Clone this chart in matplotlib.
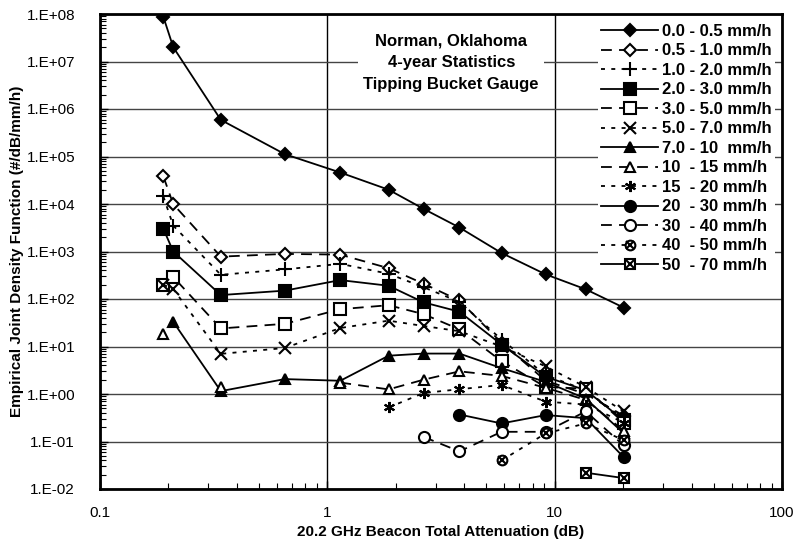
import numpy as np
import matplotlib
matplotlib.use("Agg")
import matplotlib.pyplot as plt
from matplotlib.legend_handler import HandlerTuple
from matplotlib.ticker import LogLocator, NullFormatter

plt.rcParams['font.family'] = ['Liberation Sans', 'DejaVu Sans']

nan = np.nan
attenuation = [0.19, 0.21, 0.34, 0.65, 1.14, 1.86, 2.65, 3.81, 5.84, 9.13, 13.7, 20.1]

labels = ["0.0 - 0.5 mm/h", "0.5 - 1.0 mm/h", "1.0 - 2.0 mm/h", "2.0 - 3.0 mm/h",
          "3.0 - 5.0 mm/h", "5.0 - 7.0 mm/h", "7.0 - 10  mm/h", "10  - 15 mm/h",
          "15  - 20 mm/h", "20  - 30 mm/h", "30  - 40 mm/h", "40  - 50 mm/h",
          "50  - 70 mm/h"]

r00_05 = [8.7e7, 2.0e7, 5.9e5, 1.12e5, 4.6e4, 2.0e4, 7.9e3, 3.2e3, 930, 330, 160, 66]
r05_10 = [3.8e4, 9.9e3, 780, 890, 860, 445, 210, 93, 12, 1.9, 1.0, 0.35]
r10_20 = [1.44e4, 3.5e3, 323, 420, 550, 340, 177, 87, 14, 2.5, 1.2, 0.30]
r20_30 = [3.0e3, 1.0e3, 121, 150, 250, 190, 85, 54, 11, 2.3, 1.2, 0.28]
r30_50 = [200, 290, 24, 30, 61, 74, 48, 23, 4.9, 1.4, 1.3, 0.25]
r50_70 = [200, 162, 7.0, 9.3, 24.5, 35, 27, 21, 10, 3.8, 1.4, 0.43]
r70_100 = [nan, 33, 1.15, 2.06, 1.9, 6.4, 7.1, 7.1, 3.5, 1.8, 0.8, 0.15]
r100_150 = [18.5, nan, 1.4, nan, 1.74, 1.25, 2.0, 3.0, 2.4, 1.35, 0.75, 0.17]
r150_200 = [nan, nan, nan, nan, nan, 0.52, 1.05, 1.26, 1.55, 0.69, 0.6, 0.25]
r200_300 = [nan, nan, nan, nan, nan, nan, nan, 0.37, 0.24, 0.36, 0.31, 0.047]
r300_400 = [nan, nan, nan, nan, nan, nan, 0.125, 0.062, 0.16, 0.16, 0.43, 0.083]
r400_500 = [nan, nan, nan, nan, nan, nan, nan, nan, 0.04, 0.148, 0.24, 0.107]
r500_700 = [nan, nan, nan, nan, nan, nan, nan, nan, nan, nan, 0.022, 0.017]

series = [r00_05, r05_10, r10_20, r20_30, r30_50, r50_70, r70_100, r100_150,
          r150_200, r200_300, r300_400, r400_500, r500_700]

solid = '-'
dashed = (0, (6, 4))
dotted = (0, (2.2, 3.5))
styles = [
    dict(ls=solid, marker='D', mfc='black', ms=6.5),
    dict(ls=dashed, marker='D', mfc='white', ms=6.0),
    dict(ls=dotted, marker='+', mfc='black', ms=10),
    dict(ls=solid, marker='s', mfc='black', ms=8),
    dict(ls=dashed, marker='s', mfc='white', ms=8),
    dict(ls=dotted, marker='x', mfc='black', ms=8),
    dict(ls=solid, marker='^', mfc='black', ms=7.5),
    dict(ls=dashed, marker='^', mfc='white', ms=7.5),
    dict(ls=dotted, marker=(6, 2, 0), mfc='black', ms=8),
    dict(ls=solid, marker='o', mfc='black', ms=8),
    dict(ls=dashed, marker='o', mfc='white', ms=8),
    dict(ls=dotted, marker='o', mfc='white', ms=7),
    dict(ls=solid, marker='s', mfc='white', ms=7),
]
overlay = {11: dict(marker='x', ms=6), 12: dict(marker='x', ms=6.5)}

fig = plt.figure(figsize=(8.0, 5.47), dpi=100)
ax = fig.add_axes([100/800, (547-489)/547, 682/800, 475/547])

handles = []
for i, (vals, st) in enumerate(zip(series, styles)):
    ln, = ax.plot(attenuation, vals, color='black', lw=1.3, linestyle=st['ls'],
                  marker=st['marker'], markerfacecolor=st['mfc'],
                  markeredgecolor='black', markersize=st['ms'],
                  markeredgewidth=1.5, zorder=3)
    if i in overlay:
        ov, = ax.plot(attenuation, vals, color='black', lw=0, linestyle='none',
                      marker=overlay[i]['marker'], markersize=overlay[i]['ms'],
                      markeredgewidth=1.5, zorder=4)
        handles.append((ln, ov))
    else:
        handles.append(ln)

ax.set_xscale('log')
ax.set_yscale('log')
ax.set_xlim(0.1, 100)
ax.set_ylim(1e-2, 1e8)

exps = list(range(-2, 9))
ax.set_yticks([10.0**k for k in exps])
ax.set_yticklabels(["1.E%s%02d" % ('+' if k >= 0 else '-', abs(k)) for k in exps])
ax.set_xticks([0.1, 1, 10, 100])
ax.set_xticklabels(["0.1", "1", "10", "100"])

ax.grid(True, which='major', axis='y', color='#444444', lw=1.0)
ax.grid(True, which='major', axis='x', color='black', lw=1.0)
ax.tick_params(which='both', direction='in', labelsize=11)
ax.tick_params(which='major', length=6, width=1)
ax.tick_params(which='minor', length=4, width=0.8)
ax.tick_params(axis='x', pad=12)
ax.tick_params(axis='y', pad=18)
ax.yaxis.set_minor_locator(LogLocator(base=10, subs=np.arange(2, 10), numticks=100))
ax.yaxis.set_minor_formatter(NullFormatter())
for s in ax.spines.values():
    s.set_linewidth(2)

ax.set_xlabel("20.2 GHz Beacon Total Attenuation (dB)", fontsize=11, fontweight='bold', labelpad=4)
ax.set_ylabel("Empirical Joint Density Function (#/dB/mm/h)", fontsize=11, fontweight='bold', labelpad=2)

ax.text(0.515, 0.96, "Norman, Oklahoma\n4-year Statistics\nTipping Bucket Gauge",
        transform=ax.transAxes, ha='center', va='top', fontsize=12, fontweight='bold',
        linespacing=1.6, zorder=5,
        bbox=dict(facecolor='white', edgecolor='none', pad=4))

leg = ax.legend(handles, labels, loc='upper right', bbox_to_anchor=(0.995, 0.993),
                frameon=True, fancybox=False, framealpha=1, edgecolor='none',
                prop=dict(size=12, weight='bold'), handlelength=3.4,
                handletextpad=0.25, labelspacing=0.27, borderpad=0.2,
                borderaxespad=0.2,
                handler_map={tuple: HandlerTuple(ndivide=1)})
leg.set_zorder(6)

fig.savefig("out.png", dpi=100)
